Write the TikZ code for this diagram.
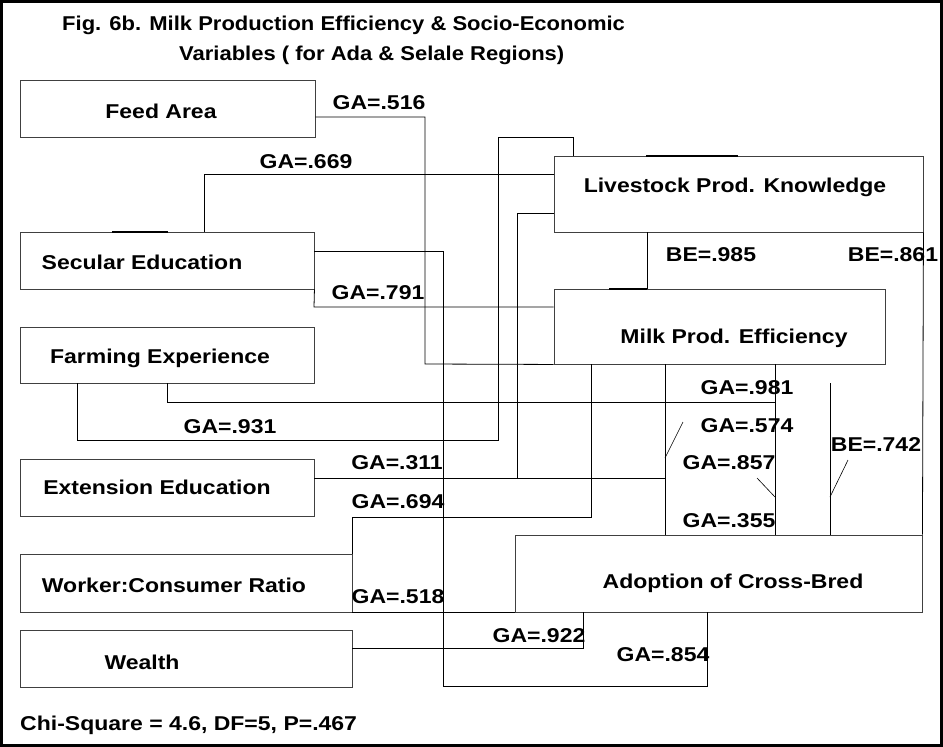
\documentclass[tikz,border=0pt]{standalone}
\usepackage{fontspec}
\setmainfont{Liberation Sans}[FakeStretch=1.15]
\newfontfamily\titlefont{Liberation Sans}[FakeStretch=1.10]
\begin{document}
\begin{tikzpicture}[x=1pt,y=-1pt,
  box/.style={draw=black!75, line width=0.9pt, inner sep=0pt, fill=none},
  txt/.style={font=\fontsize{20}{24}\selectfont\bfseries, inner sep=0pt, anchor=center},
  ttl/.style={font=\titlefont\fontsize{20}{24}\selectfont\bfseries, inner sep=0pt, anchor=west},
  conn/.style={draw=black, line width=0.8pt},
  lead/.style={draw=black, line width=0.6pt},
  stub/.style={draw=black, line width=1.6pt}]
\path[use as bounding box] (0,0) rectangle (943,747);
\draw[line width=3pt] (1.5,1.5) rectangle (941.5,745.5);

% title
\node[ttl] (t1) at (62,25) {Fig. 6b. Milk Production Efficiency \& Socio-Economic};
\node[ttl] (t2) at (179,55) {Variables ( for Ada \& Selale Regions)};

% boxes
\node[box, minimum width=295pt, minimum height=57pt] (feed) at (167.5,108.5) {};
\node[box, minimum width=294pt, minimum height=57pt] (sec) at (167,260.5) {};
\node[box, minimum width=294pt, minimum height=56pt] (farm) at (167,355) {};
\node[box, minimum width=294pt, minimum height=57pt] (ext) at (167,487.5) {};
\node[box, minimum width=332pt, minimum height=58pt] (work) at (186,583) {};
\node[box, minimum width=332pt, minimum height=57pt] (wealth) at (186,658.5) {};
\node[box, minimum width=369pt, minimum height=76pt] (lpk) at (738.5,194) {};
\node[box, minimum width=331pt, minimum height=75pt] (mpe) at (719.5,326.5) {};
\node[box, minimum width=407pt, minimum height=77pt] (adopt) at (718.5,573.5) {};

% box texts
\node[txt] (feedT) at (161,111) {Feed Area};
\node[txt] (secT) at (142,262) {Secular Education};
\node[txt] (farmT) at (160,358) {Farming Experience};
\node[txt] (extT) at (157,487) {Extension Education};
\node[txt] (workT) at (174,585) {Worker:Consumer Ratio};
\node[txt] (wealthT) at (142,662) {Wealth};
\node[txt] (lpkT) at (735,187) {Livestock Prod. Knowledge};
\node[txt] (mpeT) at (734,338) {Milk Prod. Efficiency};
\node[txt] (adoptT) at (733,583) {Adoption of Cross-Bred};

% connectors
\draw[conn] (feed.east |- 0,117) -| (425,364) -- (mpe.south west);
\draw[conn] (sec.north -| 204,0) |- (lpk.west |- 0,174);
\draw[conn] (sec.east |- 0,251) -| (443,686) -| (adopt.south -| 707,0);
\draw[conn] (sec.south east) -- (314,307) -- (mpe.west |- 0,307);
\draw[conn] (farm.south -| 77,0) |- (498,440) |- (573,137) -- (lpk.north -| 573,0);
\draw[conn] (farm.south -| 167,0) |- (775,402);
\draw[conn] (ext.east |- 0,478) -- (665,478);
\coordinate (extj) at (517,478);
\draw[conn] (extj) |- (lpk.west |- 0,213);
\draw[conn] (work.north east) |- (591,517) -- (mpe.south -| 591,0);
\draw[conn] (work.south east) -- (adopt.south west);
\draw[conn] (wealth.east |- 0,648) -| (adopt.south -| 583,0);
\draw[conn] (lpk.south -| 647,0) -- (mpe.north -| 647,0);
\draw[conn] (lpk.south east) -- (adopt.north east);
\draw[conn] (mpe.south -| 665,0) -- (adopt.north -| 665,0);
\draw[conn] (mpe.south -| 775,0) -- (adopt.north -| 775,0);
\coordinate (r742) at (830,383);
\draw[conn] (r742) -- (adopt.north -| r742);

% leaders
\draw[lead] (683,422) -- (665,458);
\draw[lead] (757,478) -- (775,497);
\draw[lead] (848,460) -- (830,497);

% stubs
\draw[stub] (112,232) -- (168,232);
\draw[stub] (646,156) -- (738,156);
\draw[stub] (609,289) -- (647,289);

% labels
\node[txt] (l516) at (379,103) {GA=.516};
\node[txt] (l669) at (306,162) {GA=.669};
\node[txt] (l791) at (378,293) {GA=.791};
\node[txt] (l931) at (230,427) {GA=.931};
\node[txt] (l311) at (397,463) {GA=.311};
\node[txt] (l694) at (398,502) {GA=.694};
\node[txt] (l518) at (398,597) {GA=.518};
\node[txt] (l922) at (539,636) {GA=.922};
\node[txt] (l854) at (663,655) {GA=.854};
\node[txt] (l985) at (711,255) {BE=.985};
\node[txt] (l861) at (893,255) {BE=.861};
\node[txt] (l981) at (747,388) {GA=.981};
\node[txt] (l574) at (747,426) {GA=.574};
\node[txt] (l857) at (729,463) {GA=.857};
\node[txt] (l355) at (729,521) {GA=.355};
\node[txt] (l742) at (876,445) {BE=.742};

\node[txt, anchor=west] (chi) at (20,725) {Chi-Square = 4.6, DF=5, P=.467};
\end{tikzpicture}
\end{document}
